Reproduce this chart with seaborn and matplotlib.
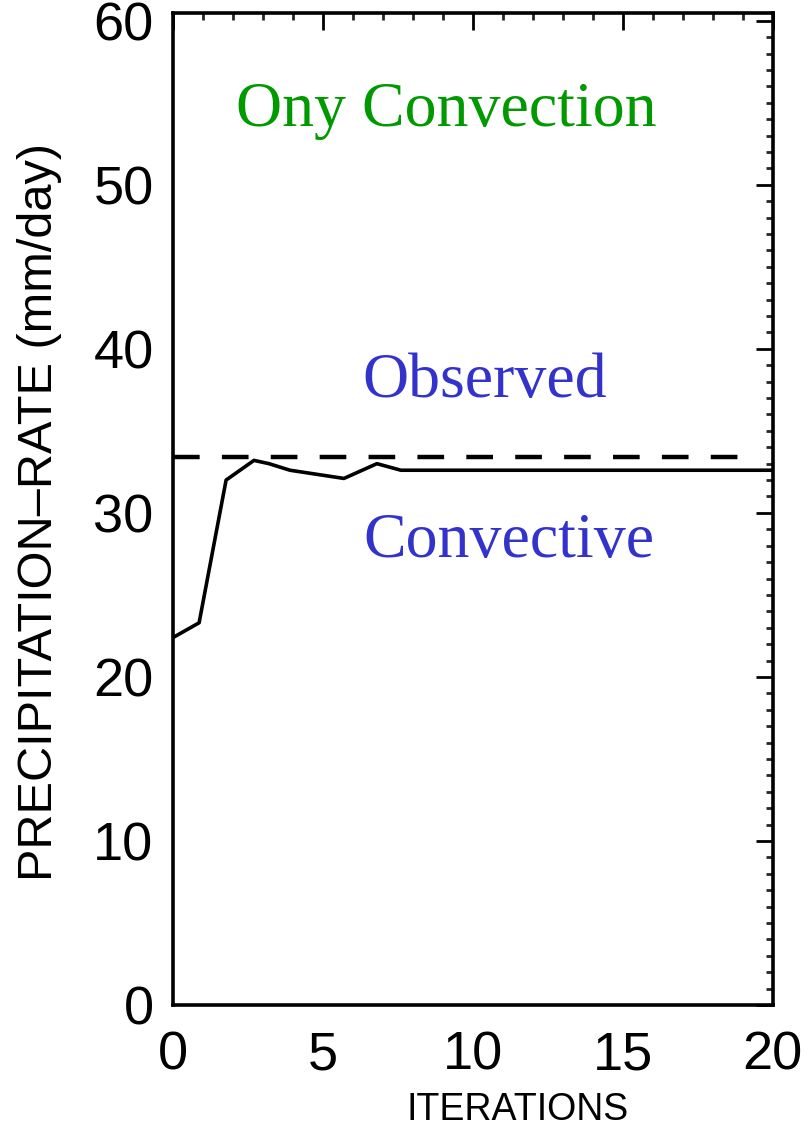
import matplotlib
matplotlib.use("Agg")
import matplotlib.pyplot as plt
import seaborn as sns
import pandas as pd
from matplotlib.ticker import MultipleLocator

# Data
iterations = [0, 0.87, 1.77, 2.7, 3.2, 3.9, 5.7, 6.8, 7.6, 20]
convective = [22.4, 23.3, 32.0, 33.2, 33.0, 32.6, 32.1, 33.0, 32.6, 32.6]
observed_rate = 33.4
x_ticks = [0, 5, 10, 15, 20]
y_ticks = [0, 10, 20, 30, 40, 50, 60]

sns.set_theme(style="white")
plt.rcParams['font.family'] = ['Liberation Sans', 'DejaVu Sans']

df = pd.DataFrame({"iter": iterations, "rate": convective})

fig = plt.figure(figsize=(8.1, 11.4), dpi=100)
ax = fig.add_axes([0.2136, 0.1184, 0.7404, 0.8706])

sns.lineplot(data=df, x="iter", y="rate", ax=ax, color="black", linewidth=2.6)
ax.axhline(observed_rate, xmin=0, xmax=0.96, color="black", linewidth=3.2,
           dashes=(6.0, 5.0))

ax.set_xlim(0, 20)
ax.set_ylim(0, 60.5)
ax.set_xticks(x_ticks)
ax.set_yticks(y_ticks)
ax.xaxis.set_minor_locator(MultipleLocator(1))
ax.yaxis.set_minor_locator(MultipleLocator(1))
ax.tick_params(which="major", direction="in", length=12, width=2.0,
               top=True, right=True, labelsize=39, pad=14, colors="black")
ax.tick_params(which="minor", direction="in", length=5, width=2.0,
               top=True, right=True)
ax.tick_params(axis="x", pad=18)
for s in ax.spines.values():
    s.set_color("black")
    s.set_linewidth(2.6)

ax.set_xlabel("ITERATIONS", fontsize=27, color="black")
ax.xaxis.set_label_coords(0.575, -0.088)
ax.set_ylabel("PRECIPITATION\u2013RATE (mm/day)", fontsize=35, color="black")
ax.yaxis.set_label_coords(-0.185, 0.497)

serif = ['Liberation Serif', 'DejaVu Serif']
ax.text(9.1, 54.5, "Ony Convection", color="#009900", fontsize=46,
        family=serif, ha="center", va="center")
ax.text(10.4, 38.0, "Observed", color="#3333cc", fontsize=46,
        family=serif, ha="center", va="center")
ax.text(11.2, 28.2, "Convective", color="#3333cc", fontsize=46,
        family=serif, ha="center", va="center")

fig.savefig("out.png", dpi=100, facecolor="white")
